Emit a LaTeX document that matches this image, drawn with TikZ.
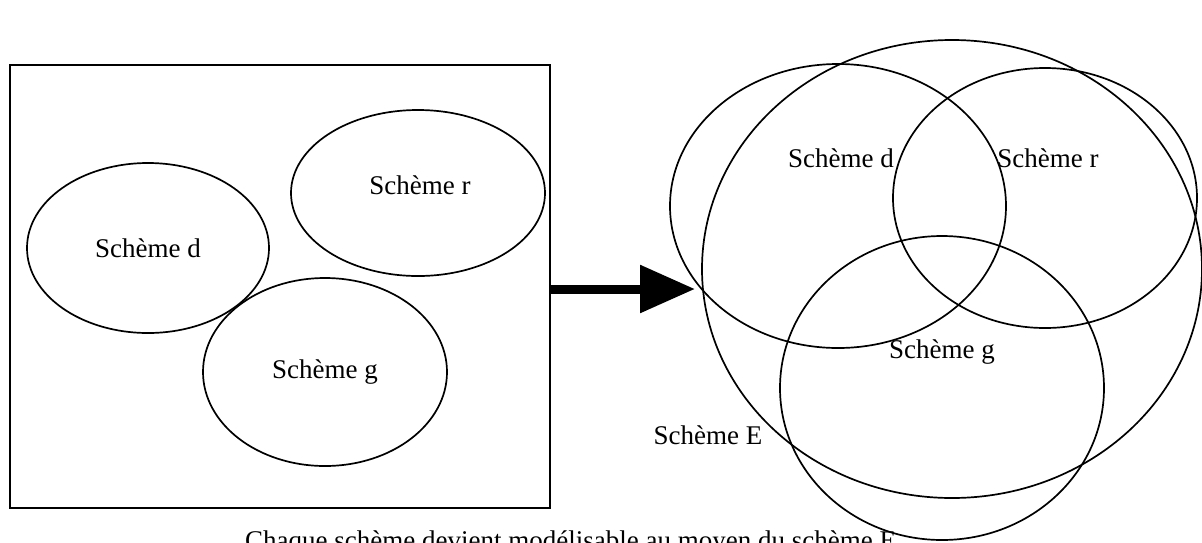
\documentclass[tikz,border=0pt]{standalone}
\usepackage{fontspec}
\setmainfont{Liberation Serif}
\usetikzlibrary{shapes.geometric,arrows.meta}

\begin{document}
\begin{tikzpicture}[x=1pt,y=-1pt,
    schema/.style={ellipse,draw,line width=1.7pt,inner sep=0pt},
    label/.style={font=\fontsize{27}{32}\selectfont},
    every node/.style={label}]
  \useasboundingbox (0,0) rectangle (1202,542);
  % left: separate schemes
  \node[draw,line width=1.7pt,minimum width=540pt,minimum height=443pt] (box) at (280,286.5) {};
  \node[schema,minimum width=242pt,minimum height=170pt] (ld) at (148,248) {Schème d};
  \node[schema,minimum width=254pt,minimum height=166pt] (lr) at (418,193) {};
  \node[label] (tlr) at (420,185) {Schème r};
  \node[schema,minimum width=244pt,minimum height=188pt] (lg) at (325,372) {Schème g};
  % right: everything inside E
  \node[schema,minimum width=500pt,minimum height=458pt] (re) at (952,269) {};
  \node[schema,minimum width=336pt,minimum height=284pt] (rd) at (838,206) {};
  \node[schema,minimum width=304pt,minimum height=260pt] (rr) at (1045,198) {};
  \node[schema,minimum width=324pt,minimum height=304pt] (rg) at (942,388) {};
  \node (trd) at (841,158) {Schème d};
  \node (trr) at (1048,158) {Schème r};
  \node (trg) at (942,352) {Schème g};
  \node (tre) at (708,435) {Schème E};
  \coordinate (tip) at (695,289);
  \draw[line width=9pt,-{Triangle[length=55pt,width=46pt]}] (box.east |- tip) -- (tip);
  \node[anchor=base west,inner sep=0pt] (cap) at (245,549) {Chaque schème devient modélisable au moyen du schème E};
\end{tikzpicture}
\end{document}
